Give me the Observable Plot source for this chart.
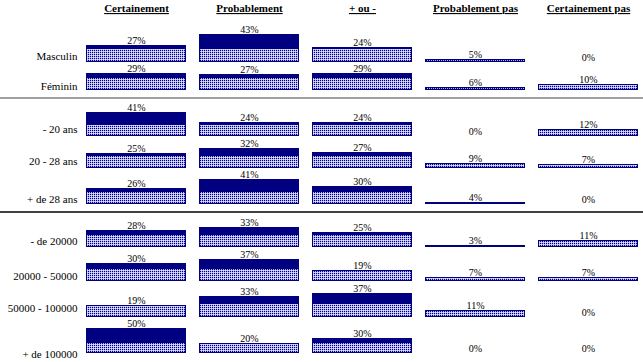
<!DOCTYPE html>
<html>
<head>
<meta charset="utf-8">
<script src="https://cdn.jsdelivr.net/npm/d3@7"></script>
<script src="https://cdn.jsdelivr.net/npm/@observablehq/plot@0.6"></script>
<style>
  html, body { margin: 0; padding: 0; background: #fff; }
  #chart { position: relative; width: 643px; height: 362px; overflow: hidden; font-family: "Liberation Serif", serif; }
  .layer { position: absolute; left: 0; }
  .sep { position: absolute; left: 0; width: 643px; height: 2px; }
</style>
</head>
<body>
<svg width="0" height="0" style="position:absolute">
  <defs>
    <pattern id="hatch" width="2" height="2" patternUnits="userSpaceOnUse">
      <rect width="2" height="2" fill="#b2b2ec"></rect>
      <rect x="0" y="0" width="1" height="1" fill="#000080"></rect>
      <rect x="1" y="1" width="1" height="1" fill="#e4e4ff"></rect>
    </pattern>
  </defs>
</svg>
<div id="chart"></div>
<script>
// ---- data ----
const columns = ["Certainement", "Probablement", "+ ou -", "Probablement pas", "Certainement pas"];
const rows = ["Masculin", "Féminin", "- 20 ans", "20 - 28 ans", "+ de 28 ans",
              "- de 20000", "20000 - 50000", "50000 - 100000", "+ de 100000"];
const masculin   = [27, 43, 24, 5, 0];
const feminin    = [29, 27, 29, 6, 10];
const moins20    = [41, 24, 24, 0, 12];
const de20a28    = [25, 32, 27, 9, 7];
const plus28     = [26, 41, 30, 4, 0];
const moins20000 = [28, 33, 25, 3, 11];
const de20000    = [30, 37, 19, 7, 7];
const de50000    = [19, 33, 37, 11, 0];
const plus100000 = [50, 20, 30, 0, 0];
const rowValues = [masculin, feminin, moins20, de20a28, plus28, moins20000, de20000, de50000, plus100000];
const hatchLimit = 20; // part of each bar drawn hatched (%)

// ---- layout ----
const W = 643, ML = 79, MR = 0;
const xScale = {type: "band", domain: columns, range: [79.5, 644.5], paddingInner: 0.115, paddingOuter: 0.0575, round: true, axis: null};
const baselines = [62, 90, 136, 168, 204, 247, 281, 317, 353];
const pxPerPct  = [0.64, 0.58, 0.575, 0.61, 0.61, 0.6, 0.6, 0.645, 0.49];
const labelDy   = [-3, -1, -4, -4, -2, -3, -2, -6, 4];
const navy = "#000080";
const FONT = "Liberation Serif";
const chart = document.getElementById("chart");

// header
const header = Plot.plot({
  width: W, height: 20, marginLeft: ML, marginRight: MR, marginTop: 0, marginBottom: 0,
  style: {background: "transparent", overflow: "visible", fontFamily: FONT},
  x: xScale,
  marks: [
    Plot.text(columns, {x: d => d, frameAnchor: "middle", dy: -2, text: d => d,
      fontSize: 11, fontWeight: "bold", fill: "#000", fontFamily: FONT})
  ]
});
header.querySelectorAll("text").forEach(t => {
  t.style.textDecoration = "underline";
  t.style.textDecorationColor = "#a0a0a0";
  t.style.textDecorationThickness = "2px";
});
const hd = document.createElement("div");
hd.className = "layer"; hd.style.top = "0px";
hd.appendChild(header);
chart.appendChild(hd);

// rows
const H = 50, MB = 2;
rows.forEach((name, i) => {
  const data = columns.map((c, j) => ({col: c, v: rowValues[i][j]}));
  const ymax = (H - MB) / pxPerPct[i];
  const p = Plot.plot({
    width: W, height: H, marginLeft: ML, marginRight: MR, marginTop: 0, marginBottom: MB,
    style: {background: "transparent", overflow: "visible", fontFamily: FONT},
    x: xScale,
    y: {domain: [0, ymax], axis: null, round: true},
    marks: [
      Plot.barY(data.filter(d => d.v > 0), {x: "col", y1: 0, y2: d => Math.min(d.v, hatchLimit), fill: "url(#hatch)", shapeRendering: "crispEdges"}),
      Plot.barY(data.filter(d => d.v > hatchLimit), {x: "col", y1: hatchLimit, y2: "v", fill: navy, shapeRendering: "crispEdges"}),
      Plot.barY(data.filter(d => d.v > 0), {x: "col", y1: 0, y2: "v", fill: "none", stroke: navy, strokeWidth: 1, inset: 0.5}),
      Plot.text(data, {x: "col", y: "v", text: d => d.v + "%", lineAnchor: "bottom", dy: -2,
        fontSize: 10, fill: "#000", fontFamily: FONT}),
      Plot.text([name], {frameAnchor: "bottom-left", text: d => d, textAnchor: "end", dx: -2, dy: labelDy[i],
        fontSize: 11, fill: "#000", fontFamily: FONT})
    ]
  });
  const div = document.createElement("div");
  div.className = "layer";
  div.style.top = (baselines[i] - (H - MB)) + "px";
  div.appendChild(p);
  chart.appendChild(div);
});

// group separators
[[97, "#a0a0a0"], [211, "#404040"]].forEach(([y, c]) => {
  const s = document.createElement("div");
  s.className = "sep"; s.style.top = y + "px"; s.style.background = c;
  chart.appendChild(s);
});
</script>
</body>
</html>
